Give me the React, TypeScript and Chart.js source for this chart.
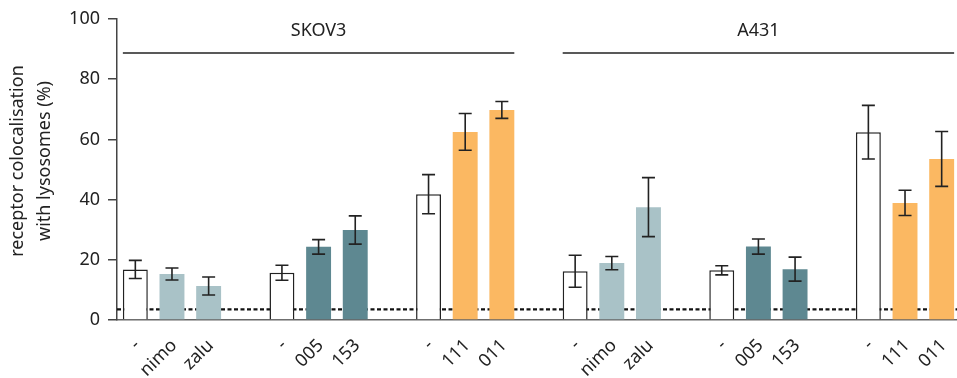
import React, { useEffect, useRef } from "react";
import { Chart, registerables } from "chart.js";

Chart.register(...registerables);

const categories = ["-", "nimo", "zalu", "", "-", "005", "153", "", "-", "111", "011", "", "-", "nimo", "zalu", "", "-", "005", "153", "", "-", "111", "011"];
const controlValues = [16.8, null, null, null, 15.7, null, null, null, 41.8, null, null, null, 16.2, null, null, null, 16.5, null, null, null, 62.4, null, null];
const treatedValues = [null, 15.3, 11.3, null, null, 24.3, 29.9, null, null, 62.5, 69.8, null, null, 18.9, 37.5, null, null, 24.4, 16.9, null, null, 38.9, 53.5];
const errorValues = [3.0, 2.0, 3.0, null, 2.5, 2.4, 4.7, null, 6.5, 6.1, 2.8, null, 5.3, 2.2, 9.8, null, 1.5, 2.5, 4.0, null, 8.9, 4.2, 9.1];
const groupNames = ["SKOV3", "A431"];
const groupFirst = [0, 12];
const groupLast = [10, 22];
const baselineValue = 3.5;
const yTicks = [0, 20, 40, 60, 80, 100];
const yTitleLines = ["receptor colocalisation", "with lysosomes (%)"];

const palette: Record<string, string> = {
  nimo: "#a9c2c7",
  zalu: "#a9c2c7",
  "005": "#5e8891",
  "153": "#5e8891",
  "111": "#fbb862",
  "011": "#fbb862",
};

const FONT = "'Noto Sans', 'Open Sans', sans-serif";
const INK = "#222222";
const BAR_FRACTION = 0.68;

const overlayPlugin = {
  id: "overlay",
  beforeDatasetsDraw(chart: any) {
    const { ctx, chartArea } = chart;
    const y = chart.scales.y.getPixelForValue(baselineValue);
    ctx.save();
    ctx.setLineDash([4, 2.5]);
    ctx.lineWidth = 2.2;
    ctx.strokeStyle = "#111";
    ctx.beginPath();
    ctx.moveTo(chartArea.left, y);
    ctx.lineTo(chartArea.right, y);
    ctx.stroke();
    ctx.restore();
  },
  afterDatasetsDraw(chart: any) {
    const { ctx } = chart;
    const xs = chart.scales.x;
    const ys = chart.scales.y;
    const slot = xs.getPixelForValue(1) - xs.getPixelForValue(0);
    const half = (slot * BAR_FRACTION) / 2;
    ctx.save();
    ctx.strokeStyle = INK;
    ctx.lineWidth = 1.6;
    errorValues.forEach((e, i) => {
      if (e == null) return;
      const v = controlValues[i] != null ? controlValues[i] : treatedValues[i];
      if (v == null) return;
      const px = xs.getPixelForValue(i);
      const top = ys.getPixelForValue((v as number) + e);
      const bot = ys.getPixelForValue((v as number) - e);
      ctx.beginPath();
      ctx.moveTo(px, top);
      ctx.lineTo(px, bot);
      ctx.moveTo(px - 6.5, top);
      ctx.lineTo(px + 6.5, top);
      ctx.moveTo(px - 6.5, bot);
      ctx.lineTo(px + 6.5, bot);
      ctx.stroke();
    });
    // group headers
    ctx.font = `18px ${FONT}`;
    ctx.fillStyle = INK;
    ctx.textAlign = "center";
    ctx.textBaseline = "middle";
    groupNames.forEach((name, g) => {
      const left = xs.getPixelForValue(groupFirst[g]) - half;
      const right = xs.getPixelForValue(groupLast[g]) + half;
      ctx.lineWidth = 1.5;
      ctx.beginPath();
      ctx.moveTo(left, 53);
      ctx.lineTo(right, 53);
      ctx.stroke();
      ctx.fillText(name, (left + right) / 2, 31);
    });
    // y axis title
    ctx.translate(0, 161);
    ctx.rotate(-Math.PI / 2);
    ctx.textAlign = "center";
    ctx.textBaseline = "middle";
    yTitleLines.forEach((line, i) => {
      ctx.fillText(line, 0, 18 + i * 27);
    });
    ctx.restore();
  },
};

export default function App() {
  const ref = useRef<HTMLCanvasElement | null>(null);
  useEffect(() => {
    if (!ref.current) return;
    const chart = new Chart(ref.current, {
      type: "bar",
      data: {
        labels: categories,
        datasets: [
          {
            label: "control",
            data: controlValues as any,
            backgroundColor: "#ffffff",
            borderColor: INK,
            borderWidth: 1.5,
            grouped: false,
            categoryPercentage: 1,
            barPercentage: BAR_FRACTION,
          } as any,
          {
            label: "treated",
            data: treatedValues as any,
            backgroundColor: categories.map((c) => palette[c] || "#ffffff"),
            borderWidth: 0,
            grouped: false,
            categoryPercentage: 1,
            barPercentage: BAR_FRACTION,
          } as any,
        ],
      },
      options: {
        responsive: false,
        animation: false,
        layout: { padding: { top: 19, right: 0, left: 0, bottom: 0 } },
        plugins: { legend: { display: false }, tooltip: { enabled: false } },
        scales: {
          x: {
            grid: { display: false, drawTicks: false },
            border: { display: true, color: "#666", width: 1.5 },
            ticks: {
              color: INK,
              font: { family: FONT, size: 18 },
              maxRotation: 45,
              minRotation: 45,
              padding: 15,
              labelOffset: 2,
              autoSkip: false,
            },
            afterFit(scale: any) {
              scale.height = 58;
              scale.paddingLeft = 0;
              scale.paddingRight = 0;
            },
          },
          y: {
            min: 0,
            max: 100,
            afterBuildTicks(scale: any) {
              scale.ticks = yTicks.map((v) => ({ value: v }));
            },
            grid: { display: true, drawOnChartArea: false, drawTicks: true, tickLength: 9, color: "#444", lineWidth: 1.5 },
            border: { display: true, color: "#444", width: 1.5 },
            ticks: { color: INK, font: { family: FONT, size: 18 }, padding: 8 },
            afterFit(scale: any) {
              scale.width = 117;
            },
          },
        },
      } as any,
      plugins: [overlayPlugin],
    });
    return () => chart.destroy();
  }, []);
  return (
    <div style={{ position: "fixed", left: 0, top: 0, width: 957, height: 378, overflow: "hidden", background: "#fff" }}>
      <div style={{ width: 960, height: 378 }}>
        <canvas ref={ref} width={960} height={378} style={{ display: "block", width: 960, height: 378 }} />
      </div>
    </div>
  );
}
